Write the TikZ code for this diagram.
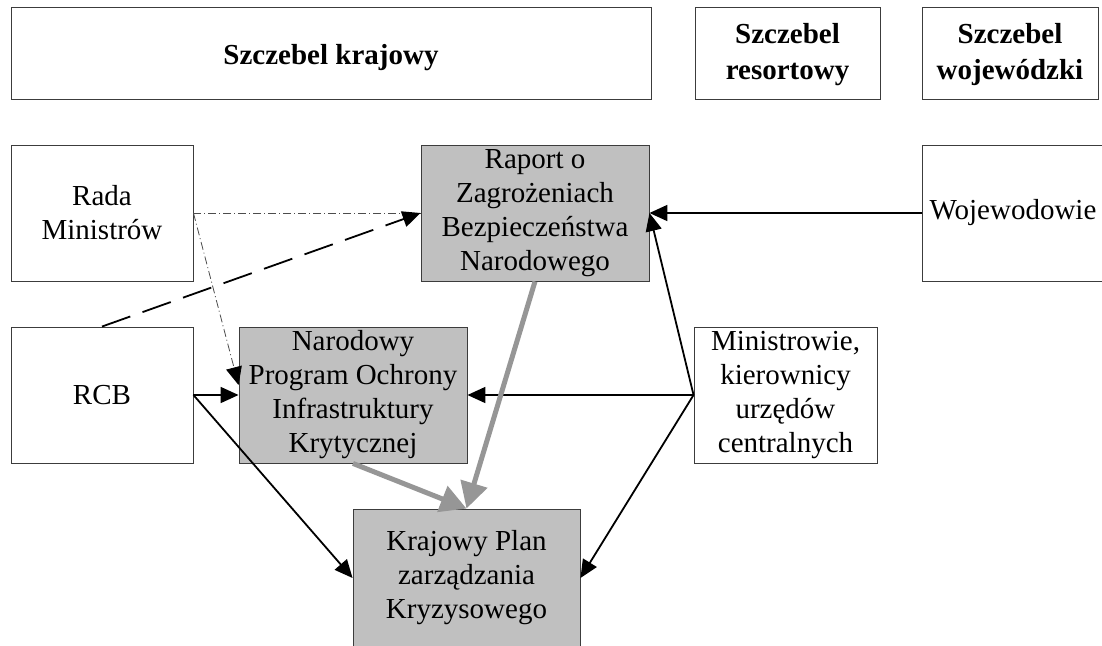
\documentclass[tikz,border=0pt]{standalone}
\usepackage{fontspec}
\setmainfont{Liberation Serif}
\usetikzlibrary{arrows.meta}
\definecolor{fillgray}{RGB}{192,192,192}
\definecolor{arrgray}{RGB}{150,150,150}
\definecolor{edgegray}{RGB}{60,60,60}
\newcommand{\lowr}[2]{\raisebox{-#1}[\height][\depth]{#2}}
\begin{document}
\begin{tikzpicture}[x=1pt,y=-1pt,
 box/.style={draw=edgegray, line width=0.9pt, inner sep=0pt, align=center, font=\fontsize{29}{34}\selectfont},
 hdr/.style={box, font=\bfseries\fontsize{29}{36}\selectfont},
 shaded/.style={box, fill=fillgray},
 tip/.style={-{Triangle[length=18pt,width=16pt]}},
 arr/.style={line width=1.8pt, tip},
 garr/.style={line width=5pt, draw=arrgray, -{Triangle[length=26pt,width=27pt]}},
 dashdot/.style={line width=0.8pt, draw=black!70, dash pattern=on 8pt off 3pt on 1pt off 3pt},
 longdash/.style={line width=1.8pt, dash pattern=on 30pt off 13pt, tip},
]
\useasboundingbox (0,0) rectangle (1102,645);
% headers
\node[hdr, minimum width=640pt, minimum height=92pt] (h1) at (331,53) {\lowr{4.5pt}{Szczebel krajowy}};
\node[hdr, minimum width=185pt, minimum height=92pt] (h2) at (787.5,53) {\lowr{2pt}{Szczebel}\\\lowr{2pt}{resortowy}};
\node[hdr, minimum width=176pt, minimum height=92pt] (h3) at (1010,53) {\lowr{2pt}{Szczebel}\\\lowr{2pt}{wojewódzki}};
% row 2
\node[box, minimum width=182pt, minimum height=136pt] (rada) at (102,213) {Rada\\Ministrów};
\node[shaded, minimum width=228pt, minimum height=136pt] (raport) at (535,213) {Raport o\\Zagrożeniach\\Bezpieczeństwa\\Narodowego};
\node[box, minimum width=182pt, minimum height=136pt] (woj) at (1013,213) {Wojewodowie};
% row 3
\node[box, minimum width=182pt, minimum height=136pt] (rcb) at (102,395) {RCB};
\node[shaded, minimum width=228pt, minimum height=136pt] (nar) at (353,395) {Narodowy\\Program Ochrony\\Infrastruktury\\Krytycznej};
\node[box, minimum width=183pt, minimum height=136pt] (min) at (785.5,395) {Ministrowie,\\kierownicy\\urzędów\\centralnych};
% row 4
\node[shaded, minimum width=227pt, minimum height=138pt] (kpl) at (466.5,578) {Krajowy Plan\\zarządzania\\Kryzysowego};
% connectors
\draw[dashdot] (rada.east) -- (raport.west);
\draw[dashdot, -{Triangle[length=18pt,width=16pt,fill=black,color=black]}] (rada.east) -- ([yshift=10pt]nar.west);
\draw[longdash] (rcb.north) -- (raport.west);
\draw[arr] (rcb.east) -- (nar.west);
\draw[arr] (rcb.east) -- (kpl.west);
\draw[arr] (woj.west) -- (raport.east);
\draw[arr] (min.west) -- (raport.east);
\draw[arr] (min.west) -- (nar.east);
\draw[arr] (min.west) -- (kpl.east);
\draw[garr] (raport.south) -- (kpl.north);
\draw[garr] (nar.south) -- (kpl.north);
\end{tikzpicture}
\end{document}
